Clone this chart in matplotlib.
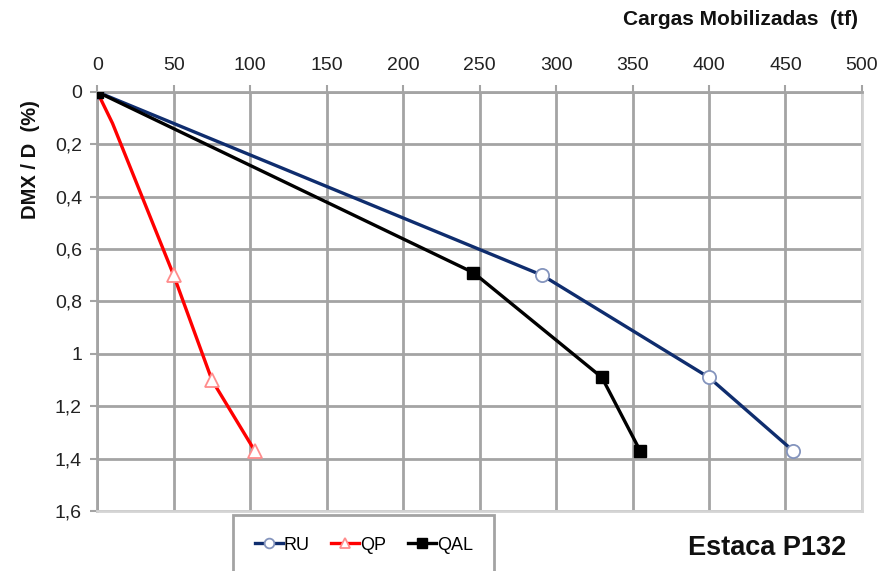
import matplotlib
matplotlib.use('agg')
import matplotlib.pyplot as plt
from matplotlib.ticker import FuncFormatter

plt.rcParams['font.family'] = ['Liberation Sans', 'DejaVu Sans']

# series (load in tf, DMX/D in %)
ru_x = [0, 291, 400, 455]
ru_y = [0, 0.70, 1.09, 1.37]
qp_x = [0, 10, 50, 75, 103]
qp_y = [0, 0.12, 0.70, 1.10, 1.37]
qal_x = [0, 246, 330, 355]
qal_y = [0, 0.69, 1.09, 1.37]

x_ticks = list(range(0, 501, 50))
y_ticks = [0, 0.2, 0.4, 0.6, 0.8, 1.0, 1.2, 1.4, 1.6]

fig = plt.figure(figsize=(8.84, 5.71), dpi=100)
ax = fig.add_axes([0.110, 0.105, 0.865, 0.734])

grid_c = '#a4a4a4'
ax.plot(ru_x, ru_y, color='#0f2d6e', lw=2.4, marker='o', ms=9.5,
        mfc='white', mec='#8494bd', mew=1.3, label='RU', zorder=3)
ax.plot(qp_x, qp_y, color='#ff0000', lw=2.4, marker='^', ms=10,
        mfc='white', mec='#ff8c8c', mew=1.3, markevery=[2, 3, 4],
        label='QP', zorder=3)
ax.plot(qal_x, qal_y, color='black', lw=2.4, marker='s', ms=9,
        mfc='black', mec='black', label='QAL', zorder=4)

ax.set_xlim(0, 500)
ax.set_ylim(1.6, 0)
ax.set_xticks(x_ticks)
ax.set_yticks(y_ticks)
ax.xaxis.tick_top()
ax.yaxis.set_major_formatter(FuncFormatter(lambda v, p: ('%g' % round(v, 1)).replace('.', ',')))

ax.grid(True, color=grid_c, lw=2)
ax.set_axisbelow(True)
ax.tick_params(axis='x', length=5, width=1.5, color=grid_c, pad=8, labelsize=14, labelcolor='#222222')
ax.tick_params(axis='y', length=5, width=1.5, color=grid_c, pad=6, labelsize=14, labelcolor='#222222')
for side in ['top', 'left']:
    ax.spines[side].set_color(grid_c)
    ax.spines[side].set_linewidth(2)
for side in ['bottom', 'right']:
    ax.spines[side].set_color('#d4d4d4')
    ax.spines[side].set_linewidth(2)

fig.text(0.971, 0.965, 'Cargas Mobilizadas  (tf)', ha='right', va='center',
         fontsize=15, fontweight='bold', color='#111111')
fig.text(0.034, 0.72, 'DMX / D  (%)', ha='center', va='center', rotation=90,
         fontsize=14.5, fontweight='bold', color='#111111')

leg = fig.legend(loc='upper left', bbox_to_anchor=(233 / 884, 1 - 515 / 571),
                 ncol=3, frameon=True, fancybox=False, fontsize=13,
                 handlelength=1.55, handletextpad=0.05, columnspacing=1.2,
                 borderpad=1.2, borderaxespad=0)
leg.get_frame().set_edgecolor('#8c8c8c')
leg.get_frame().set_linewidth(2)
for h in leg.legend_handles:
    h.set_markersize(7)

fig.text(0.957, 0.04, 'Estaca P132', ha='right', va='center',
         fontsize=19.5, fontweight='bold', color='#111111')

fig.savefig('out.png', dpi=100)
plt.close()
